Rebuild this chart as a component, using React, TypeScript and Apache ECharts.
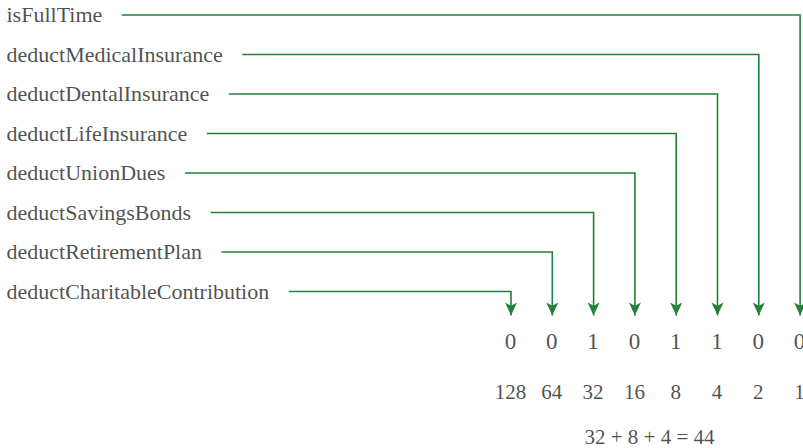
import React, { useEffect, useRef } from "react";
import * as echarts from "echarts";

const fieldNames = [
  "isFullTime",
  "deductMedicalInsurance",
  "deductDentalInsurance",
  "deductLifeInsurance",
  "deductUnionDues",
  "deductSavingsBonds",
  "deductRetirementPlan",
  "deductCharitableContribution",
];
const bitValues = [0, 0, 1, 0, 1, 1, 0, 0];
const bitWeights = [128, 64, 32, 16, 8, 4, 2, 1];

const W = 803;
const H = 448;
const GREEN = "#24803a";
const INK = "#231f20";
const FONT = "'Liberation Serif', 'Times New Roman', serif";

export default function App() {
  const ref = useRef<HTMLDivElement>(null);
  useEffect(() => {
    document.body.style.margin = "0";
    if (!ref.current) return;
    const chart = echarts.init(ref.current, undefined, { renderer: "svg" });

    const labelSize = 22;
    const ctx = document.createElement("canvas").getContext("2d")!;
    ctx.font = `${labelSize}px ${FONT}`;

    const rowY = (i: number) => 15 + i * 39.5;
    const colX = (j: number) => 511 + j * 41.3;
    const labelX = 7;
    const tipY = 322;
    const arrowLen = 13;
    const arrowY = tipY - arrowLen / 2;

    const lineData = fieldNames.map((name, i) => {
      const col = fieldNames.length - 1 - i;
      const startX = labelX + ctx.measureText(name).width + 19;
      return {
        coords: [
          [startX, rowY(i)],
          [colX(col), rowY(i)],
          [colX(col), arrowY],
        ],
      };
    });

    const sumParts = bitWeights.filter((w, j) => bitValues[j] === 1);
    const total = sumParts.reduce((a, b) => a + b, 0);
    const equation = `${sumParts.join(" + ")} = ${total}`;

    const textScatter = (data: any[], size: number, align: string) => ({
      type: "scatter",
      silent: true,
      symbolSize: 1,
      itemStyle: { color: "transparent" },
      data,
      label: {
        show: true,
        position: [0, 0],
        align,
        verticalAlign: "middle",
        color: INK,
        fontSize: size,
        fontFamily: FONT,
        formatter: (p: any) => p.name,
      },
    });

    chart.setOption({
      animation: false,
      grid: { left: 0, right: 0, top: 0, bottom: 0 },
      xAxis: { type: "value", min: 0, max: W, show: false },
      yAxis: { type: "value", min: 0, max: H, inverse: true, show: false },
      series: [
        {
          type: "lines",
          coordinateSystem: "cartesian2d",
          polyline: true,
          silent: true,
          lineStyle: { color: GREEN, width: 1.6, opacity: 1 },
          data: lineData,
        },
        {
          type: "scatter",
          silent: true,
          symbol: "arrow",
          symbolRotate: 180,
          symbolSize: [9, arrowLen],
          itemStyle: { color: GREEN, opacity: 1 },
          data: bitValues.map((b, j) => [colX(j), arrowY]),
        },
        textScatter(
          fieldNames.map((n, i) => ({ name: n, value: [labelX, rowY(i)] })),
          labelSize,
          "left"
        ),
        textScatter(
          bitValues.map((b, j) => ({ name: String(b), value: [colX(j), 342] })),
          23,
          "center"
        ),
        textScatter(
          bitWeights.map((w, j) => ({ name: String(w), value: [colX(j), 392] })),
          21,
          "center"
        ),
        textScatter([{ name: equation, value: [650, 437] }], 21, "center"),
      ],
    });
    return () => chart.dispose();
  }, []);
  return <div ref={ref} style={{ width: W, height: H }} />;
}
